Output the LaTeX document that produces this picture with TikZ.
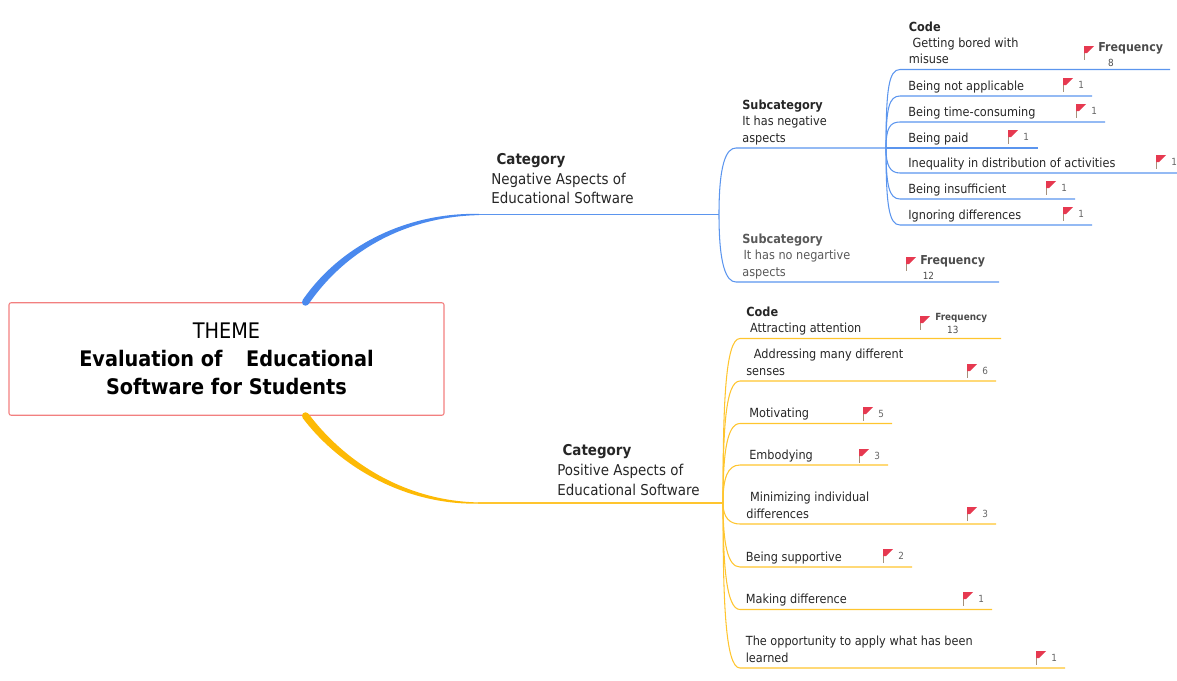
\documentclass[tikz,border=0pt]{standalone}
\usepackage{fontspec}
\setmainfont{DejaVu Sans Condensed}
\usepackage{tikz}
\usetikzlibrary{positioning}
\definecolor{blueln}{HTML}{5B95EE}
\definecolor{bluethick}{HTML}{4A89EE}
\definecolor{yellowln}{HTML}{FFC52E}
\definecolor{yellowthick}{HTML}{FDBA05}
\definecolor{rootln}{HTML}{F27F7F}
\definecolor{flagred}{HTML}{E63950}
\tikzset{
	leafb/.style={draw=blueln, line width=.6pt},
	leafy/.style={draw=yellowln, line width=.6pt},
	lbl/.style={inner sep=0, align=left, text=black!85, font=\fontsize{7.15}{9.3}\selectfont, execute at end node=\strut},
	catlbl/.style={inner sep=0, align=left, text=black!85, font=\fontsize{8.5}{11.2}\selectfont, execute at end node=\strut},
	num/.style={inner sep=0, anchor=west, text=black!60, font=\fontsize{5.6}{7}\selectfont},
	freq/.style={inner sep=0, align=left, text=black!70, font=\fontsize{7}{8.6}\selectfont},
	pics/flag/.style={code={
		\draw [draw=black!45!brown!60, line width=.5pt] (0,0) -- (0,-.27);
		\fill [flagred] (0,0) -- (.2,0) -- (.06,-.14) -- (0,-.14) -- cycle;
	}},
	pics/flagnum/.style={code={
		\pic {flag};
		\node [num] (-num) at (.3,-.14) {#1};
	}}
}
\begin{document}
\begin{tikzpicture}
	\useasboundingbox (0,0) rectangle (23.54,-13.62);
	% theme box and the two main branches
	\node [draw=rootln, line width=.6pt, rounded corners=1.2pt, minimum width=8.7cm, minimum height=2.25cm, inner sep=0] (root) at (4.53,-7.18) {};
	\node [inner sep=0, align=center, text=black, font=\fontsize{12.2}{16}\selectfont, below=.41 of root.north] (theme) {THEME\\\textbf{Evaluation of\hspace{1.1em}Educational}\\\textbf{Software for Students}};
	\coordinate [right=1.58 of root.north] (rootb);
	\coordinate [right=1.58 of root.south] (rooty);
	\coordinate (hubb) at (14.38,-4.29);
	\coordinate (huby) at (14.46,-10.06);
	\coordinate [left=4.8 of hubb] (catb);
	\coordinate [left=4.9 of huby] (caty);
	\fill [bluethick] ([shift={(-.06,.04)}]rootb) .. controls +(.8,1.16) and +(-1.36,.03) .. ([yshift=.012cm]catb) -- ([yshift=-.012cm]catb) .. controls +(-1.36,-.03) and +(.8,1.16) .. ([shift={(.06,-.04)}]rootb) -- cycle;
	\fill [bluethick] (rootb) circle (.07);
	\fill [yellowthick] ([shift={(.06,.04)}]rooty) .. controls +(.8,-1.06) and +(-1.36,.03) .. ([yshift=.012cm]caty) -- ([yshift=-.012cm]caty) .. controls +(-1.36,-.03) and +(.8,-1.06) .. ([shift={(-.06,-.04)}]rooty) -- cycle;
	\fill [yellowthick] (rooty) circle (.07);
	\draw [leafb] (catb) -- (hubb);
	\draw [leafy] (caty) -- (huby);
	\node [catlbl, above right=.09 and .24 of catb] (catneg) {\hspace{.35em}\textbf{Category}\\Negative Aspects of\\Educational Software};
	\node [catlbl, above right=.03 and 1.58 of caty] (catpos) {\hspace{.35em}\textbf{Category}\\Positive Aspects of\\Educational Software};
	% first subcategory
	\coordinate (sub1s) at (14.72,-2.96);
	\coordinate (hubn) at (17.72,-2.96);
	\draw [leafb] (hubb) .. controls +(0,1) and +(-.2,0) .. (sub1s) -- (hubn);
	\node [lbl, above right=.01 and .12 of sub1s] (sub1) {\textbf{Subcategory}\\It has negative\\aspects};
	% codes of the first subcategory
	\coordinate (n1s) at (18,-1.39);
	\coordinate [right=5.4 of n1s] (n1e);
	\draw [leafb] (hubn) .. controls +(0,1.2) and +(-.22,0) .. (n1s) -- (n1e);
	\node [lbl, above right=.01 and .17 of n1s] (n1) {\textbf{Code}\\\hspace{.3em}Getting bored with\\misuse};
	\coordinate (n1f) at (21.68,-.92);
	\pic at (n1f) {flag};
	\node [freq, below right=-.08 and .28 of n1f] (n1freq) {\textbf{Frequency}\\\hspace{.8em}{\fontsize{5.6}{7}\selectfont 8}};
	\coordinate (n2s) at (18,-1.92);
	\coordinate [right=3.84 of n2s] (n2e);
	\draw [leafb] (hubn) .. controls +(0,.8) and +(-.22,0) .. (n2s) -- (n2e);
	\node [lbl, above right=.01 and .16 of n2s] (n2) {Being not applicable};
	\pic (n2f) at (21.26,-1.56) {flagnum=1};
	\coordinate (n3s) at (18,-2.44);
	\coordinate [right=4.1 of n3s] (n3e);
	\draw [leafb] (hubn) .. controls +(0,.4) and +(-.2,0) .. (n3s) -- (n3e);
	\node [lbl, above right=.01 and .16 of n3s] (n3) {Being time-consuming};
	\pic (n3f) at (21.52,-2.08) {flagnum=1};
	\coordinate [right=3.04 of hubn] (n4e);
	\draw [leafb] (hubn) -- (n4e);
	\node [lbl, above right=.01 and .44 of hubn] (n4) {Being paid};
	\pic (n4f) at (20.16,-2.6) {flagnum=1};
	\coordinate (n5s) at (18,-3.46);
	\coordinate [right=5.54 of n5s] (n5e);
	\draw [leafb] (hubn) .. controls +(0,-.35) and +(-.2,0) .. (n5s) -- (n5e);
	\node [lbl, above right=.01 and .16 of n5s] (n5) {Inequality in distribution of activities};
	\pic (n5f) at (23.12,-3.1) {flagnum=1};
	\coordinate (n6s) at (18,-3.98);
	\coordinate [right=3.5 of n6s] (n6e);
	\draw [leafb] (hubn) .. controls +(0,-.75) and +(-.22,0) .. (n6s) -- (n6e);
	\node [lbl, above right=.01 and .16 of n6s] (n6) {Being insufficient};
	\pic (n6f) at (20.92,-3.62) {flagnum=1};
	\coordinate (n7s) at (18,-4.5);
	\coordinate [right=3.84 of n7s] (n7e);
	\draw [leafb] (hubn) .. controls +(0,-1.15) and +(-.22,0) .. (n7s) -- (n7e);
	\node [lbl, above right=.01 and .16 of n7s] (n7) {Ignoring differences};
	\pic (n7f) at (21.26,-4.14) {flagnum=1};
	% second subcategory
	\coordinate (sub2s) at (14.72,-5.64);
	\coordinate [right=5.26 of sub2s] (sub2e);
	\draw [leafb] (hubb) .. controls +(0,-1) and +(-.2,0) .. (sub2s) -- (sub2e);
	\node [lbl, text=black!65, above right=.01 and .12 of sub2s] (sub2) {\textbf{Subcategory}\\\hspace{.1em}It has no negartive\\aspects};
	\coordinate (sub2f) at (18.12,-5.14);
	\pic at (sub2f) {flag};
	\node [freq, below right=-.04 and .28 of sub2f] (sub2freq) {\textbf{Frequency}\\\hspace{.2em}{\fontsize{5.6}{7}\selectfont 12}};
	% codes of the positive category
	\coordinate (p1s) at (14.8,-6.77);
	\coordinate [right=5.22 of p1s] (p1e);
	\draw [leafy] (huby) .. controls +(0,1.9) and +(-.3,0) .. (p1s) -- (p1e);
	\node [lbl, above right=.01 and .12 of p1s] (p1) {\textbf{Code}\\\hspace{.3em}Attracting attention};
	\coordinate (p1f) at (18.4,-6.32);
	\pic at (p1f) {flag};
	\node [freq, font=\fontsize{5.6}{7.4}\selectfont, below right=-.06 and .3 of p1f] (p1freq) {\textbf{Frequency}\\\hspace{1.2em}13};
	\coordinate (p2s) at (14.8,-7.62);
	\coordinate [right=5.12 of p2s] (p2e);
	\draw [leafy] (huby) .. controls +(0,1.4) and +(-.3,0) .. (p2s) -- (p2e);
	\node [lbl, above right=.01 and .12 of p2s] (p2) {\hspace{.6em}Addressing many different\\senses};
	\pic (p2f) at (19.34,-7.28) {flagnum=6};
	\coordinate (p3s) at (14.8,-8.47);
	\coordinate [right=3.04 of p3s] (p3e);
	\draw [leafy] (huby) .. controls +(0,.9) and +(-.28,0) .. (p3s) -- (p3e);
	\node [lbl, above right=.01 and .18 of p3s] (p3) {Motivating};
	\pic (p3f) at (17.26,-8.14) {flagnum=5};
	\coordinate (p4s) at (14.8,-9.3);
	\coordinate [right=2.96 of p4s] (p4e);
	\draw [leafy] (huby) .. controls +(0,.5) and +(-.25,0) .. (p4s) -- (p4e);
	\node [lbl, above right=.01 and .18 of p4s] (p4) {Embodying};
	\pic (p4f) at (17.18,-8.98) {flagnum=3};
	\coordinate (p5s) at (14.8,-10.48);
	\coordinate [right=5.12 of p5s] (p5e);
	\draw [leafy] (huby) .. controls +(0,-.3) and +(-.2,0) .. (p5s) -- (p5e);
	\node [lbl, above right=.01 and .12 of p5s] (p5) {\hspace{.3em}Minimizing individual\\differences};
	\pic (p5f) at (19.34,-10.14) {flagnum=3};
	\coordinate (p6s) at (14.8,-11.34);
	\coordinate [right=3.44 of p6s] (p6e);
	\draw [leafy] (huby) .. controls +(0,-.8) and +(-.25,0) .. (p6s) -- (p6e);
	\node [lbl, above right=.01 and .11 of p6s] (p6) {Being supportive};
	\pic (p6f) at (17.66,-10.98) {flagnum=2};
	\coordinate (p7s) at (14.8,-12.19);
	\coordinate [right=5.04 of p7s] (p7e);
	\draw [leafy] (huby) .. controls +(0,-1.2) and +(-.28,0) .. (p7s) -- (p7e);
	\node [lbl, above right=.01 and .11 of p7s] (p7) {Making difference};
	\pic (p7f) at (19.26,-11.84) {flagnum=1};
	\coordinate (p8s) at (14.8,-13.36);
	\coordinate [right=6.5 of p8s] (p8e);
	\draw [leafy] (huby) .. controls +(0,-1.9) and +(-.3,0) .. (p8s) -- (p8e);
	\node [lbl, above right=.01 and .11 of p8s] (p8) {The opportunity to apply what has been\\learned};
	\pic (p8f) at (20.72,-13.02) {flagnum=1};
\end{tikzpicture}
\end{document}
